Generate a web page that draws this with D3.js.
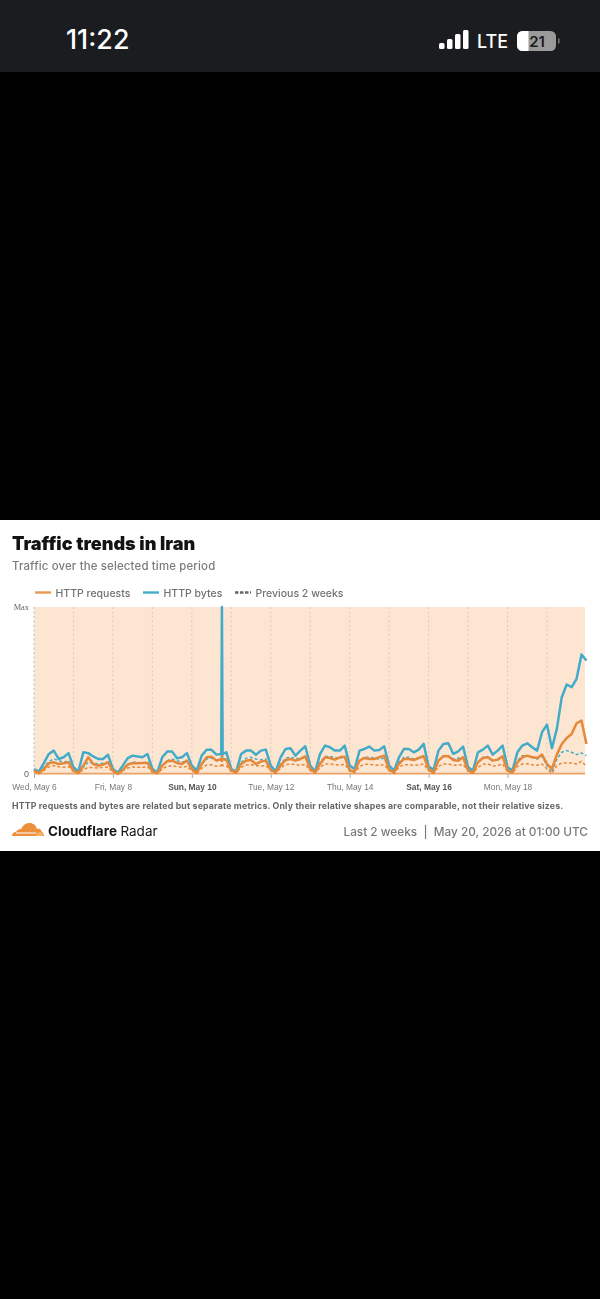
<!DOCTYPE html>
<html><head><meta charset="utf-8">
<script src="https://cdn.jsdelivr.net/npm/d3@7/dist/d3.min.js"></script>
<style>html,body{margin:0;padding:0;background:#000;overflow:hidden}svg{display:block}</style>
</head><body><div id="c"></div>
<script>
const tickLabels=["Wed, May 6","Fri, May 8","Sun, May 10","Tue, May 12","Thu, May 14","Sat, May 16","Mon, May 18"];
const boldLabels=["Sun, May 10","Sat, May 16"];
const stepHours=3;
const httpBytes=[3,1.5,6.5,12,14,9,10,12.5,4,1.5,13,12.5,10.5,9,9,11.5,3,.8,5,9.5,11,10.5,10,12,3,1,10,13.4,13.4,9.4,10,12.5,5,2,11,14.5,14.5,11.6,8,13,3,1.5,12,14,14,11.5,14,14.6,5,1.5,10,15,15.4,11,14,16.6,5,1.5,12,17,16,14,14,17,5,3,14,15,16.4,14,14.4,16.6,5,2,10,15,15,13,14.6,18,4.6,2.4,14,18,18.4,12,13.6,16.4,4,2,13,14.6,17,11.6,14,17,4,2,13,17,18.4,16,14,25,29.6,15.4,27,46,53.6,52,57,71.6,68];
const httpRequests=[2,.5,3,6.4,7,6,6.4,7,2,.5,5,10,6,5,5.6,7,2,0,2.4,5.6,6.4,6.4,6.6,6.6,1.6,.4,5,7.6,8,6.6,6,8,3,.6,6,10,10.4,8,9,8.4,2,1,6,8,8.4,6,7.4,8,2.4,1,5,8.4,9,8,9,10.6,3,1,6,10,9.6,8.6,10,10.4,2,1.6,8,9.6,9,9,10,11,2.4,1,6,9,9,8.4,9.6,10.6,3,.6,8,10.6,10.6,8.4,8,10,2,.8,7,9.6,10,8,8.6,10.6,2,1,7,10,11,10,9.6,11.6,6,3,11.6,18,21.6,24,30.4,32,18];
const prevBytes=[2,1,4,7.5,9,8,7,8,3,1,4,7,6.5,6,6.5,7,2,.5,3,6,7,7,6.5,7.5,2,.5,5,8,9,8,7,8,3,1,6,9,9.5,8,8,9,2,1,7,9.5,10,9,8.5,9,3,.8,6,9.5,10,9.5,9,10,3,1,7,10.5,10.5,10,9.5,10,3,1.5,8,10,10,9.5,9,9.5,3,1,7,10,10,9,9.5,11,3,1,8,11,11,9,9.5,10,3,1,7,10,10.5,8,8.5,10.5,2.5,1,8,11,11,10,9,10.5,5,1,9,13,14,13,11.6,12.6,11];
const prevRequests=[1.5,.3,2,4.2,5,4.4,4,4.5,1.5,.4,2.5,4,3.8,3.5,4,4.2,1,.2,2,3.6,4.2,4,4,4.4,1,.3,3,4.6,5,4.5,4,4.6,2,.4,3.5,5.4,5.5,4.6,5,5,1.5,.5,4,5.4,5.6,5,4.8,5,2,.4,3.6,5.6,6,5.6,5.2,5.8,2,.5,4,6,6,5.6,5.4,5.8,2,.8,4.6,5.8,5.8,5.4,5.2,5.6,2,.5,4,5.6,5.6,5.2,5.4,6,2,.4,4.6,6,6,5.2,5.4,5.6,2,.4,4,5.8,6,4.8,5,6,1.5,.5,4.4,6,6.2,5.6,5.2,6,3,.4,5,6.6,6.6,6.6,6,7.6,4.6];
const spikeHours=[113.9,114.3,114.7];
const spikeBytes=[12,100,12];
const spikePrevBytes=[9,100,9];
const spikeRequests=[9,9,9];
const spikePrevRequests=[5,100,5];
const spikeIndex=38;

const svg=d3.select("#c").append("svg").attr("width",600).attr("height",1299);
svg.append("rect").attr("width",600).attr("height",1299).attr("fill","#000");
// status bar
svg.append("rect").attr("width",600).attr("height",72).attr("fill","#1a1c1f");
svg.append("text").attr("x",66).attr("y",48.5).attr("font-family","Inter").attr("font-weight",500).attr("font-size",26.8).attr("fill","#fff").text("11:22");
[[439,6],[447,10],[455,15],[463,19]].forEach(([x,h])=>svg.append("rect").attr("x",x).attr("y",49-h).attr("width",5.5).attr("height",h).attr("rx",1.5).attr("fill","#fff"));
svg.append("text").attr("x",477).attr("y",48).attr("font-family","Inter").attr("font-weight",500).attr("font-size",18).attr("textLength",31).attr("lengthAdjust","spacingAndGlyphs").attr("fill","#fff").text("LTE");
svg.append("rect").attr("x",517).attr("y",31).attr("width",39).attr("height",20).attr("rx",5.5).attr("fill","#9a9a9a");
svg.append("path").attr("d","M522.5 31h6v20h-6a5.5 5.5 0 0 1-5.5-5.5v-9a5.5 5.5 0 0 1 5.5-5.5z").attr("fill","#fff");
svg.append("rect").attr("x",558).attr("y",38.5).attr("width",1.5).attr("height",5).attr("fill","#777");
svg.append("text").attr("x",537).attr("y",47).attr("text-anchor","middle").attr("font-family","Inter").attr("font-weight",600).attr("font-size",15).attr("fill","#1a1c1f").text("21");

const card=svg.append("g").style("filter","blur(0.5px)");
card.append("rect").attr("x",0).attr("y",520).attr("width",600).attr("height",331).attr("fill","#fff");
card.append("text").attr("x",12).attr("y",549.5).attr("font-family","Inter").attr("font-weight",900).attr("font-size",18.1).attr("fill","#131313").text("Traffic trends in Iran");
card.append("text").attr("x",12).attr("y",570).attr("font-family","Inter").attr("font-weight",500).attr("font-size",11.4).attr("letter-spacing",.17).attr("fill","#7b7b7b").text("Traffic over the selected time period");
// legend
[[35,"#e89a55","HTTP requests",55.5,null],[143,"#45adc9","HTTP bytes",163.5,null],[235,"#666","Previous 2 weeks",255.5,"3.5 1.5"]].forEach(([x,c,t,tx,d])=>{
  card.append("line").attr("x1",x).attr("x2",x+16).attr("y1",592.5).attr("y2",592.5).attr("stroke",c).attr("stroke-width",2.4).attr("stroke-dasharray",d);
  card.append("text").attr("x",tx).attr("y",596.5).attr("font-family","Inter").attr("font-weight",500).attr("font-size",10.5).attr("fill","#717171").text(t);
});
// scales
const totalHours=(httpBytes.length-1)*stepHours;
const x=d3.scaleLinear().domain([0,totalHours]).range([34,34+totalHours/24*39.46]);
const plotRight=585;
const y=d3.scaleLinear().domain([0,100]).range([774,607]);
card.append("rect").attr("x",34).attr("y",607).attr("width",plotRight-34).attr("height",167).attr("fill","#fde6d1");
// grid
const dayHours=d3.range(0,14).map(d=>d*24);
card.append("g").selectAll("line").data(dayHours).join("line")
  .attr("x1",d=>x(d)).attr("x2",d=>x(d)).attr("y1",607).attr("y2",774)
  .attr("stroke",d=>d===0?"#9fb9b5":"#d3c8ba").attr("stroke-width",.9).attr("stroke-dasharray","2 2.5");
// baseline
card.append("line").attr("x1",34).attr("x2",plotRight).attr("y1",y(0)-.3).attr("y2",y(0)-.3).attr("stroke","#eba268").attr("stroke-width",1.8);
// x axis labels
const labelHours=tickLabels.map((_,i)=>i*48);
const xAxis=d3.axisBottom(x).tickValues(labelHours).tickSize(4).tickFormat((d,i)=>tickLabels[i]);
const gx=card.append("g").attr("transform","translate(0,774)").call(xAxis);
gx.select(".domain").remove();
gx.selectAll(".tick line").attr("stroke","#aaa");
gx.selectAll(".tick text").attr("y",10).attr("font-family","Liberation Sans").attr("font-size",8.4)
  .attr("fill",(d,i)=>boldLabels.includes(tickLabels[i])?"#555":"#777")
  .attr("font-weight",(d,i)=>boldLabels.includes(tickLabels[i])?700:400);
const yAxis=d3.axisLeft(y).tickValues([0,100]).tickSize(0).tickFormat(d=>d===0?"0":"Max");
const gy=card.append("g").attr("transform","translate(30,0)").call(yAxis);
gy.select(".domain").remove();
gy.selectAll(".tick text").attr("x",-1).attr("font-family","Liberation Serif").attr("font-size",8.4).attr("fill","#666");
gy.selectAll(".tick").filter(d=>d===0).select("text").attr("font-family","Liberation Sans").attr("font-size",9);
// series
function pts(vals,sv){
  const a=vals.map((v,i)=>[i*stepHours,v]);
  const s=sv.map((v,i)=>[spikeHours[i],v]);
  a.splice(spikeIndex,1,...s);
  return a;
}
const line=d3.line().x(d=>x(d[0])).y(d=>y(d[1])).curve(d3.curveLinear);
const series=[
 [prevBytes,spikePrevBytes,"#45adc9",1.5,"3 2.2"],
 [prevRequests,spikePrevRequests,"#e58a36",1.5,"3 2.2"],
 [httpBytes,spikeBytes,"#43abc8",2.5,null],
 [httpRequests,spikeRequests,"#e5883a",2.5,null]
];
series.forEach(([v,s,c,w,d])=>card.append("path").attr("d",line(pts(v,s))).attr("fill","none").attr("stroke",c).attr("stroke-width",w).attr("stroke-dasharray",d).attr("stroke-linejoin","round"));
// note
card.append("text").attr("x",12).attr("y",808.5).attr("font-family","Inter").attr("font-weight",700).attr("font-size",8.75).attr("letter-spacing",.17).attr("fill","#666").text("HTTP requests and bytes are related but separate metrics. Only their relative shapes are comparable, not their relative sizes.");
// logo
const lg=card.append("g").attr("transform","translate(12,822)");
lg.append("path").attr("fill","#ee8f3c").attr("d","M0 14c0-2.5 1.8-4 4.2-4.2C5.5 7.5 7.5 6.8 9.2 7.2 10.8 3 14 1 17.5 1c3.6 0 6.5 2.3 7.5 6 1.5-.8 3.5-.3 4.3 1.5.4.8.4 1.3.3 1.8 1.5-.2 2.400 1.700 2.400 3.700H0z");
lg.append("path").attr("fill","#f7b068").attr("d","M24 14c0-2 1.5-3.800 3.700-3.800 2.200 0 3.300 1.600 3.300 3.800z");
lg.append("rect").attr("x",4).attr("y",10.5).attr("width",20).attr("height",1).attr("fill","#fff");
card.append("text").attr("x",48).attr("y",836).attr("font-family","Inter").attr("font-size",13.5).attr("fill","#141414")
  .call(t=>{t.append("tspan").attr("font-weight",700).text("Cloudflare");t.append("tspan").attr("font-weight",400).attr("dx",3.5).text("Radar");});
card.append("text").attr("x",588).attr("y",835.5).attr("text-anchor","end").attr("font-family","Inter").attr("font-weight",500).attr("font-size",11.8).attr("fill","#7a7a7a").text("Last 2 weeks  |  May 20, 2026 at 01:00 UTC").style("white-space","pre");
</script></body></html>
